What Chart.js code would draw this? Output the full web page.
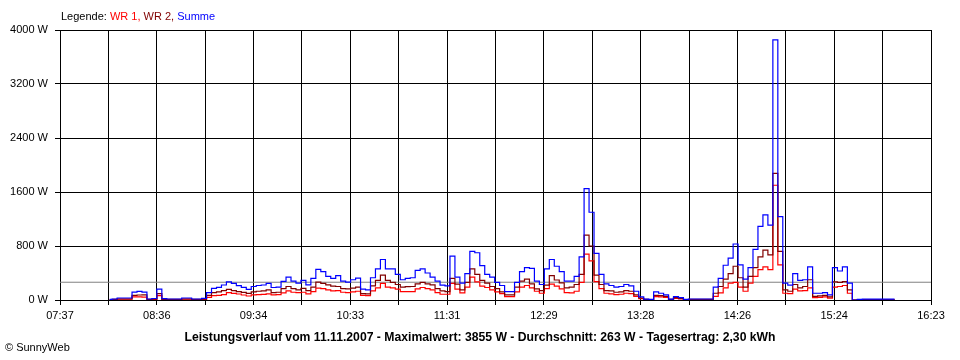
<!DOCTYPE html>
<html>
<head>
<meta charset="utf-8">
<title>Leistungsverlauf 11.11.2007</title>
<script src="https://cdn.jsdelivr.net/npm/chart.js@4.4.0/dist/chart.umd.min.js"></script>
<style>
  body { margin: 0; background: #fff; font-family: "Liberation Sans", Arial, sans-serif; }
  #wrap { position: relative; width: 960px; height: 360px; }
  #legende { position: absolute; left: 61px; top: 10px; font-size: 11px; line-height: 13px; color: #000; }
  #titel { position: absolute; left: 0; width: 960px; top: 330px; text-align: center; font-size: 12.2px; line-height: 14px; font-weight: bold; color: #000; }
  #copy { position: absolute; left: 5px; top: 341px; font-size: 11px; line-height: 13px; color: #000; }
</style>
</head>
<body>
<div id="wrap">
  <canvas id="chart"></canvas>
  <div id="legende">Legende: <span style="color:#ff0000">WR 1,</span> <span style="color:#800000">WR 2,</span> <span style="color:#0000ff">Summe</span></div>
  <div id="titel"></div>
  <div id="copy">© SunnyWeb</div>
</div>
<script>
// ==========================================
// DATEN (alle 3 Minuten ab 08:07)
// ==========================================
const X_MIN = 457;   // 07:37 in Minuten
const X_MAX = 983;   // 16:23
const START = 487;   // 08:07, erster Messwert
const STEP = 3;      // Minuten zwischen den Werten

const xTickLabels = ['07:37', '08:36', '09:34', '10:33', '11:31', '12:29', '13:28', '14:26', '15:24', '16:23'];

const summe = [
  10, 15, 30, 30, 30, 118, 128, 118, 15, 22, 160, 20, 15, 15, 15, 30, 30, 15, 15, 25,
  109, 173, 188, 222, 270, 247, 212, 188, 158, 200, 215, 222, 245, 185, 190, 275, 340, 280, 250, 290,
  225, 320, 455, 420, 350, 320, 360, 280, 265, 300, 325, 160, 150, 330, 460, 600, 460, 460, 380, 300,
  320, 330, 440, 460, 400, 340, 280, 220, 210, 650, 340, 250, 390, 720, 700, 510, 380, 340, 260, 215,
  125, 125, 260, 420, 480, 470, 280, 230, 460, 600, 500, 420, 280, 280, 350, 640, 1650, 1300, 690, 380,
  240, 215, 190, 200, 230, 210, 130, 45, 12, 10, 120, 100, 75, 12, 50, 35, 10, 15, 15, 15,
  15, 15, 190, 320, 515, 620, 830, 520, 310, 480, 750, 1090, 1260, 1110, 3855, 1235, 250, 220, 390, 290,
  300, 490, 100, 100, 110, 75, 480, 430, 490, 250, 0, 10, 12, 12, 12, 12, 12, 12, 12
];

const wr2 = [
  5, 8, 15, 15, 15, 70, 74, 75, 8, 12, 95, 10, 8, 8, 8, 15, 15, 8, 8, 12,
  70, 110, 120, 138, 158, 140, 123, 113, 99, 120, 130, 135, 150, 110, 115, 170, 200, 170, 150, 172,
  140, 190, 265, 245, 225, 205, 200, 170, 165, 175, 190, 95, 90, 210, 290, 370, 290, 260, 230, 190,
  198, 200, 240, 260, 240, 225, 170, 135, 125, 320, 235, 150, 260, 460, 380, 290, 250, 200, 170, 120,
  75, 75, 190, 280, 310, 240, 165, 140, 220, 360, 296, 255, 180, 190, 230, 380, 960, 800, 370, 230,
  140, 135, 115, 120, 140, 130, 75, 30, 8, 6, 70, 65, 55, 8, 35, 25, 6, 8, 8, 8,
  8, 8, 100, 200, 310, 390, 500, 330, 190, 350, 480, 640, 740, 670, 1876, 720, 150, 130, 230, 180,
  200, 300, 55, 60, 70, 45, 270, 260, 272, 150, 0, 5, 6, 6, 6, 6, 6, 6, 6
];

const wr1 = [
  4, 6, 12, 12, 12, 45, 45, 42, 6, 8, 65, 8, 6, 6, 6, 12, 12, 6, 6, 8,
  40, 64, 69, 79, 109, 99, 89, 74, 59, 75, 80, 82, 90, 75, 80, 105, 135, 115, 110, 115,
  90, 125, 175, 170, 150, 135, 140, 115, 110, 120, 130, 70, 65, 135, 180, 245, 190, 180, 160, 123,
  123, 125, 165, 185, 170, 150, 110, 85, 85, 245, 160, 105, 190, 340, 270, 205, 185, 150, 120, 95,
  50, 50, 120, 190, 215, 180, 130, 100, 170, 235, 207, 165, 110, 105, 130, 260, 680, 580, 272, 170,
  100, 90, 80, 85, 100, 95, 55, 20, 6, 5, 50, 45, 40, 5, 25, 15, 5, 6, 6, 6,
  6, 6, 55, 105, 180, 250, 260, 190, 130, 250, 350, 450, 490, 450, 1700, 520, 100, 95, 160, 135,
  140, 180, 35, 40, 45, 28, 190, 200, 215, 100, 0, 4, 5, 5, 5, 5, 5, 5, 5
];

const durchschnitt = 263;
const titel = 'Leistungsverlauf vom 11.11.2007 - Maximalwert: 3855 W - Durchschnitt: 263 W - Tagesertrag: 2,30 kWh';
// ==========================================

document.getElementById('titel').textContent = titel;

function toPoints(values) {
  return values.map((v, i) => ({ x: START + i * STEP, y: v }));
}

Chart.defaults.font.family = '"Liberation Sans", Arial, sans-serif';
Chart.defaults.color = '#000';

const serie = (label, values, color, order) => ({
  label: label,
  data: toPoints(values),
  borderColor: color,
  borderWidth: 1.2,
  pointRadius: 0,
  stepped: 'middle',
  fill: false,
  order: order
});

new Chart(document.getElementById('chart'), {
  type: 'line',
  data: {
    datasets: [
      serie('Summe', summe, '#0000ff', 0),
      serie('WR 2', wr2, '#800000', 1),
      serie('WR 1', wr1, '#ff0000', 2),
      {
        // Durchschnittslinie
        label: 'Durchschnitt',
        data: [{ x: X_MIN, y: durchschnitt }, { x: X_MAX, y: durchschnitt }],
        borderColor: '#808080',
        borderWidth: 1,
        pointRadius: 0,
        order: 3
      }
    ]
  },
  options: {
    responsive: true,
    maintainAspectRatio: false,
    animation: false,
    events: [],
    layout: { padding: { left: 0, top: 30, right: 29, bottom: 0 } },
    plugins: {
      legend: { display: false },
      tooltip: { enabled: false }
    },
    scales: {
      x: {
        type: 'linear',
        min: X_MIN,
        max: X_MAX,
        afterBuildTicks: (scale) => {
          const n = (xTickLabels.length - 1) * 2;
          const ticks = [];
          for (let i = 0; i <= n; i++) ticks.push({ value: X_MIN + i * (X_MAX - X_MIN) / n });
          scale.ticks = ticks;
        },
        afterFit: (scale) => { scale.height = 60; },
        grid: { color: '#000', lineWidth: 1, tickLength: 5 },
        border: { color: '#000' },
        ticks: {
          color: '#000',
          font: { size: 11 },
          padding: 4,
          maxRotation: 0,
          autoSkip: false,
          callback: (val, i) => (i % 2 === 0 ? xTickLabels[i / 2] : '')
        }
      },
      y: {
        min: 0,
        max: 4000,
        afterFit: (scale) => { scale.width = 60; },
        grid: { color: '#000', lineWidth: 1, tickLength: 5 },
        border: { color: '#000' },
        ticks: {
          stepSize: 800,
          color: '#000',
          font: { size: 11 },
          padding: 7,
          callback: (v) => v + ' W'
        }
      }
    }
  }
});
</script>
</body>
</html>
